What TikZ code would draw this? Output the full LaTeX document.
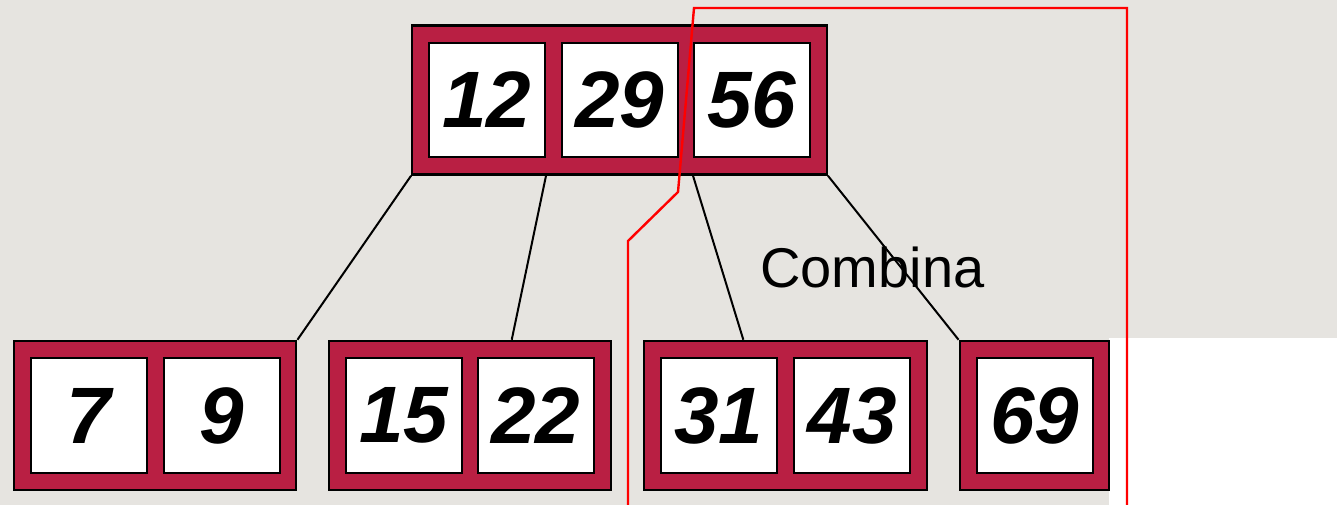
\documentclass[tikz,border=0pt]{standalone}
\usepackage{fontspec}
\setmainfont{Liberation Sans}
\usetikzlibrary{fit,calc,backgrounds}
\definecolor{slidegray}{RGB}{230,228,224}
\definecolor{framered}{RGB}{185,31,67}
\tikzset{key/.style={draw=black,line width=1.5pt,fill=white,minimum width=87pt,minimum height=85.5pt,inner sep=0pt,font=\fontsize{60}{60}\selectfont\bfseries\itshape},
frame/.style={draw=black,line width=1.8pt,fill=framered,inner xsep=11.8pt,inner ysep=12.4pt},
link/.style={draw=black,line width=1.5pt},
cut/.style={draw=red,line width=1.8pt}}

\begin{document}
\begin{tikzpicture}[x=0.75pt,y=-0.75pt]
\useasboundingbox (0,0) rectangle (1337,505);
% keys of the root
\node[key] (key-0-0) at (487,100) {12};
\node[key] (key-0-1) at (619.5,100) {29};
\node[key] (key-0-2) at (752,100) {56};
% keys of the leaves
\node[key] (key-1-0) at (88.5,415.5) {7};
\node[key] (key-1-1) at (221.5,415.5) {9};
\node[key] (key-2-0) at (404,415.5) {15};
\node[key] (key-2-1) at (536,415.5) {22};
\node[key] (key-3-0) at (719,415.5) {31};
\node[key] (key-3-1) at (852,415.5) {43};
\node[key] (key-4-0) at (1034.5,415.5) {69};
\begin{scope}[on background layer]
\path[fill=slidegray,draw=none] (0,0) rectangle (1337,505);
\path[fill=white,draw=none] (1109,338) rectangle (1337,505);
\node[frame,fit=(key-0-0) (key-0-1) (key-0-2)] (node-0) {};
\node[frame,fit=(key-1-0) (key-1-1)] (node-1) {};
\node[frame,fit=(key-2-0) (key-2-1)] (node-2) {};
\node[frame,fit=(key-3-0) (key-3-1)] (node-3) {};
\node[frame,fit=(key-4-0)] (node-4) {};
\end{scope}
\draw[link] (node-0.south west) -- (node-1.north east);
\draw[link] (key-0-0.east |- node-0.south) -- ($(node-2.north west)!0.647!(node-2.north east)$);
\draw[link] (key-0-2.west |- node-0.south) -- ($(node-3.north west)!0.352!(node-3.north east)$);
\draw[link] (node-0.south east) -- (node-4.north west);
\node[anchor=base west,inner sep=0pt,font=\fontsize{42}{42}\selectfont] (merge-label) at (760,288) {Combina};
% split line
\draw[cut] (628,505) -- (628,241) -- (678,192) -- (694,8) -- (1127,8) -- (1127,505);
\end{tikzpicture}
\end{document}
